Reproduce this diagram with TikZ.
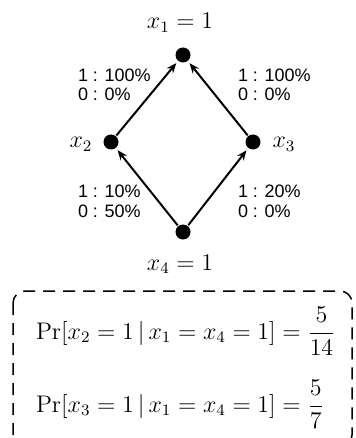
\documentclass[tikz,border=0pt]{standalone}
\usepackage{fontspec}
\usepackage{amsmath}
\usetikzlibrary{arrows.meta}
\newfontfamily\pctfont{Liberation Sans}

\begin{document}
\begin{tikzpicture}[>={Stealth[length=5pt,width=4pt]},line width=1pt,x=0.5pt,y=-0.5pt,
  dot/.style={circle,fill=black,inner sep=0pt,minimum size=7.5pt},
  pct/.style={font=\pctfont\small,anchor=base west,inner sep=0pt},
  varlab/.style={font=\large,anchor=base,inner sep=0pt},
  formula/.style={font=\large,anchor=base west,inner sep=0pt}]
\useasboundingbox (0,0) rectangle (355,438);
% ---- graph ----
\node[dot] (x1) at (183,55) {};
\node[dot] (x2) at (111,142) {};
\node[dot] (x3) at (253,142) {};
\node[dot] (x4) at (183,232) {};
\node[varlab] (l1) at (180,29) {$x_1 = 1$};
\node[varlab] (l2) at (81,148) {$x_2$};
\node[varlab] (l3) at (284,148) {$x_3$};
\node[varlab] (l4) at (180,270) {$x_4 = 1$};
\foreach \a/\b in {x4/x2,x4/x3,x2/x1,x3/x1}{
  \draw[->,shorten >=1pt] (\a) -- (\b);}
% ---- edge labels ----
\foreach \n/\px/\py/\ta/\tb in {a/77/82/100/0,b/237/82/100/0,c/77/198/10/50,d/237/198/20/0}{
  \node[pct] (\n1) at (\px,\py) {1 : \ta\%};
  \node[pct] (\n0) at (\px,\py+19) {0 : \tb\%};}
% ---- box ----
\draw[line width=0.75pt,dash pattern=on 6pt off 4pt,rounded corners=6pt]
  (13,291) rectangle (352,447);
\node[formula] (pr2) at (35,339) {$\Pr[x_2 = 1\,|\,x_1 = x_4 = 1] = \dfrac{5}{14}$};
\node[formula] (pr3) at (35,412) {$\Pr[x_3 = 1\,|\,x_1 = x_4 = 1] = \dfrac{5}{7}$};
\end{tikzpicture}
\end{document}
